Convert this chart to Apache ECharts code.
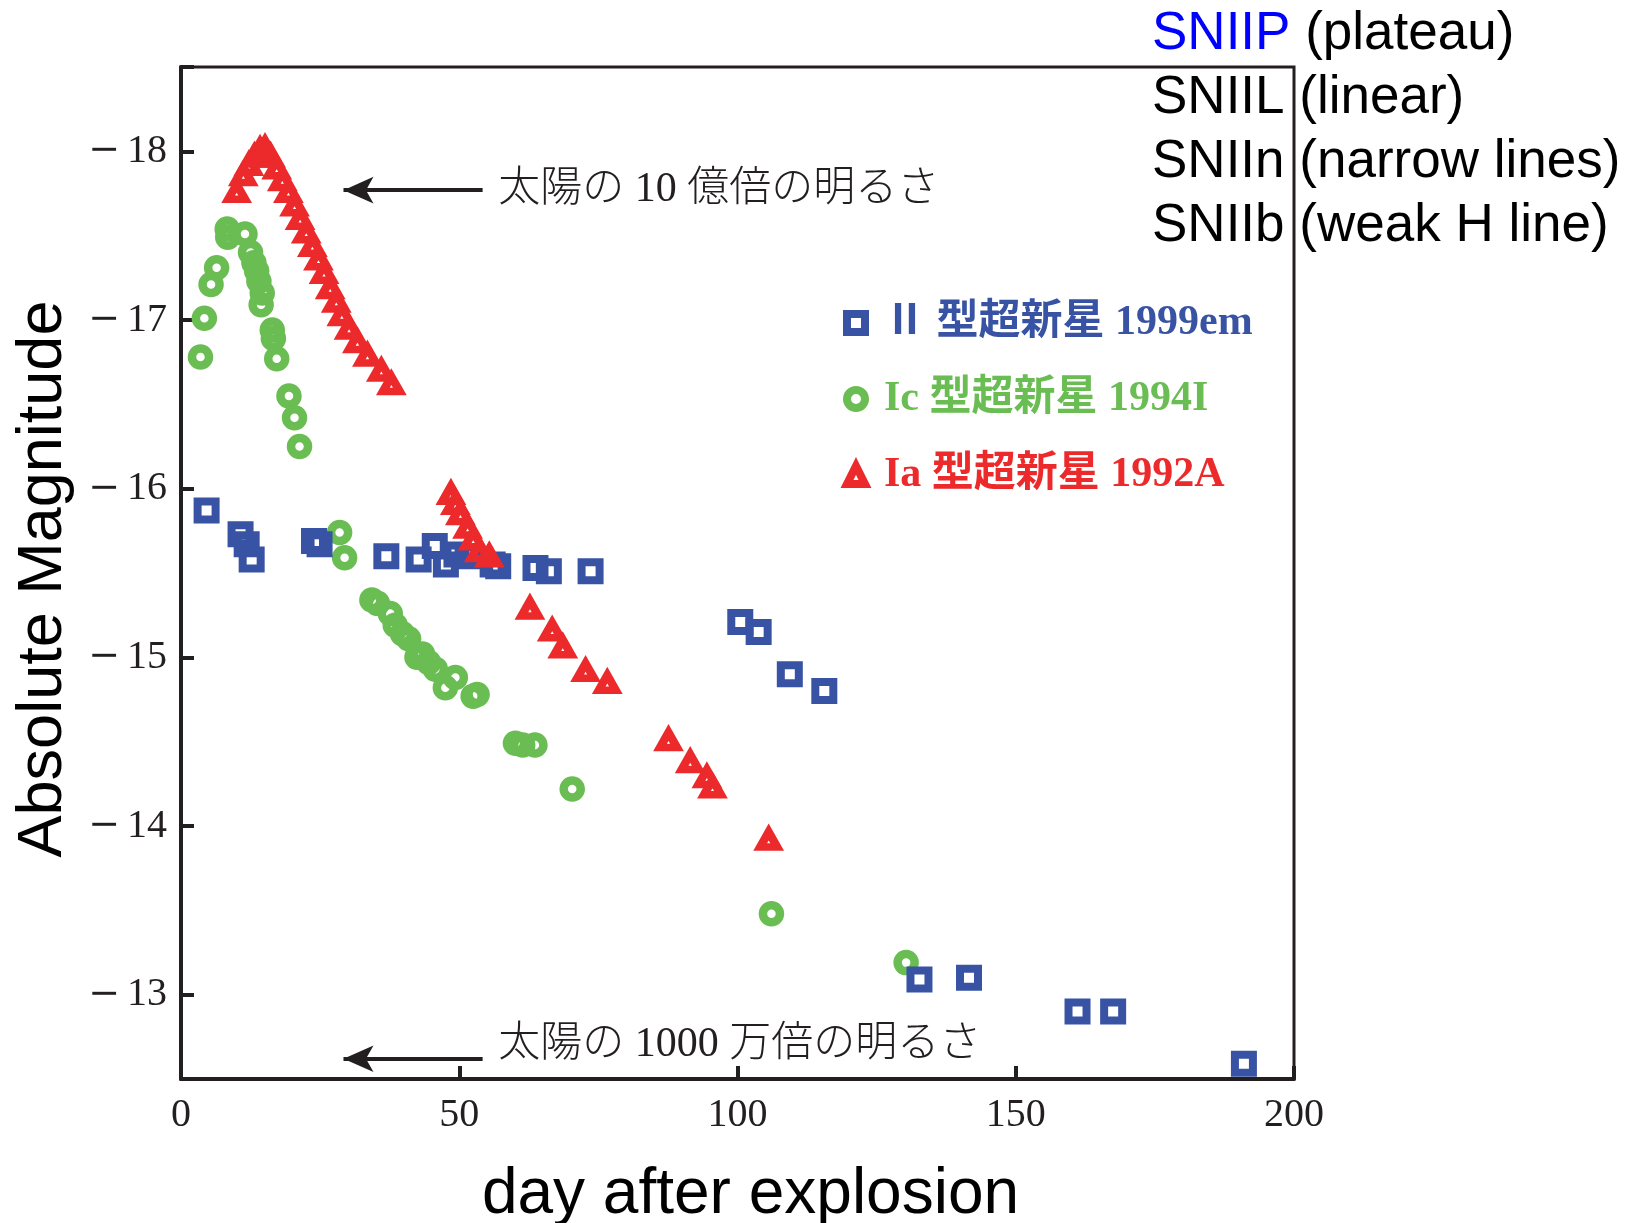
<!DOCTYPE html>
<html>
<head>
<meta charset="utf-8">
<script src="https://cdn.jsdelivr.net/npm/echarts@6/dist/echarts.min.js"></script>
<style>
html, body { margin: 0; padding: 0; background: #fff; }
#chart { width: 1627px; height: 1223px; }
</style>
</head>
<body>
<div id="chart"></div>
<script>
// Light curves: days after explosion vs. absolute magnitude
const seriesNames = ['Ⅱ 型超新星 1999em', 'Ic 型超新星 1994I', 'Ia 型超新星 1992A'];

// SN 1999em (type II, plateau)
const iiDays = [4.6, 10.7, 11.8, 12.7, 23.9, 24.9, 36.9, 42.7, 45.6, 47.6, 49.5, 51.5, 56.0, 57.0,
  63.7, 66.1, 73.6, 100.5, 103.8, 109.4, 115.6, 132.7, 141.6, 161.1, 167.5, 191.0];
const iiMag = [-15.87, -15.73, -15.67, -15.58, -15.69, -15.67, -15.60, -15.58, -15.66, -15.55, -15.61, -15.60, -15.55, -15.54,
  -15.53, -15.51, -15.51, -15.21, -15.15, -14.90, -14.80, -13.09, -13.10, -12.90, -12.90, -12.59];

// SN 1994I (type Ic)
const icDays = [3.5, 4.2, 5.4, 6.4, 8.3, 8.4, 11.5, 12.5, 13.1, 13.6, 14.0, 14.6, 14.4, 16.4, 16.6, 17.2, 19.4, 20.4, 21.3,
  28.5, 29.4,
  34.3, 35.3, 37.6, 38.5, 39.8, 40.9, 42.4, 43.4, 44.5, 45.7, 47.5, 49.3, 52.5, 53.2, 60.1, 61.4, 63.6, 70.3, 106.1, 130.3];
const icMag = [-16.78, -17.01, -17.21, -17.31, -17.54, -17.49, -17.51, -17.40, -17.34, -17.29, -17.23, -17.16, -17.09, -16.94, -16.89, -16.77, -16.55, -16.42, -16.25,
  -15.74, -15.59,
  -15.34, -15.32, -15.26, -15.19, -15.14, -15.11, -15.00, -15.02, -14.97, -14.93, -14.82, -14.88, -14.77, -14.78, -14.49, -14.48, -14.48, -14.22, -13.48, -13.19];

// SN 1992A (type Ia)
const iaDays = [10.0, 11.2, 12.2, 13.2, 14.2, 15.1, 16.1, 17.2, 18.2, 19.3, 20.4, 21.4, 22.5, 23.6, 24.7, 25.7, 26.8, 27.9, 28.9, 30.2, 31.7, 33.5, 36.0, 37.8,
  48.5, 49.3, 50.2, 51.5, 52.5, 53.6, 55.4,
  62.7, 66.7, 68.6, 72.7, 76.6, 87.6, 91.5, 94.5, 95.5, 105.6];
const iaMag = [-17.76, -17.86, -17.92, -17.97, -18.01, -18.02, -17.97, -17.90, -17.83, -17.76, -17.68, -17.60, -17.52, -17.44, -17.36, -17.28, -17.19, -17.11, -17.03, -16.95, -16.87, -16.79, -16.70, -16.62,
  -15.97, -15.91, -15.85, -15.77, -15.70, -15.63, -15.60,
  -15.29, -15.16, -15.06, -14.92, -14.85, -14.51, -14.38, -14.29, -14.23, -13.92];

// Reference brightness levels (arrows + captions)
const refLevels = [-17.77, -12.62];
const refCaptionLevels = [-17.77, -12.70];
const refCaptions = ['太陽の 10 億倍の明るさ', '太陽の 1000 万倍の明るさ'];
const arrowTailDay = 54.2;
const arrowTipDay = 29.2;
const captionDay = 57.0;

// Supernova subtype key
const typeKeys = ['SNIIP', 'SNIIL', 'SNIIn', 'SNIIb'];
const typeNotes = ['(plateau)', '(linear)', '(narrow lines)', '(weak H line)'];

const BLUE = '#3953a4', GREEN = '#6abd52', RED = '#ec2a2b', INK = '#231f20';

const pairs = (xs, ys) => xs.map((x, i) => [x, ys[i]]);
const chart = echarts.init(document.getElementById('chart'), null, { renderer: 'canvas' });

const serifFont = '"Liberation Serif", "Noto Sans CJK JP", serif';
const sansFont = '"Liberation Sans", Arial, sans-serif';

chart.setOption({
  animation: false,
  backgroundColor: '#fff',
  grid: {
    left: 181, top: 67, right: 333, bottom: 144,
    show: true, borderColor: INK, borderWidth: 3,
    containLabel: false, outerBoundsMode: 'none'
  },
  xAxis: {
    type: 'value', min: 0, max: 200, interval: 50,
    name: 'day after explosion', nameLocation: 'middle', nameGap: 84,
    nameTextStyle: { fontFamily: sansFont, fontSize: 64, color: '#000', verticalAlign: 'top', padding: [0, 0, 0, 26] },
    axisLine: { show: true, lineStyle: { color: INK, width: 4 } },
    axisTick: { show: true, inside: true, length: 13, lineStyle: { color: INK, width: 4 } },
    axisLabel: { fontFamily: serifFont, fontSize: 40, color: INK, margin: 16 },
    splitLine: { show: false }
  },
  yAxis: {
    type: 'value', min: -18.5, max: -12.5, splitNumber: 6, inverse: true,
    name: 'Absolute Magnitude', nameLocation: 'middle', nameGap: 106, nameRotate: 90,
    nameTextStyle: { fontFamily: sansFont, fontSize: 63, color: '#000', padding: [0, 12, 0, 0] },
    axisLine: { show: true, lineStyle: { color: INK, width: 4 } },
    axisTick: { show: true, inside: true, length: 13, lineStyle: { color: INK, width: 4 } },
    axisLabel: {
      fontFamily: serifFont, fontSize: 40, color: INK, margin: 14,
      formatter: v => Number.isInteger(v) ? '{m|\u2212}' + Math.abs(v) : '',
      rich: { m: { fontFamily: '"DejaVu Serif", serif', fontSize: 38, color: INK, padding: [0, 7, 0, 0] } }
    },
    splitLine: { show: false }
  },
  legend: {
    orient: 'vertical', left: 843, top: 302, padding: 0,
    itemWidth: 18, itemHeight: 18, itemGap: 34,
    selectedMode: false,
    itemStyle: { borderWidth: 8, opacity: 1 },
    textStyle: { fontFamily: serifFont, fontSize: 42, fontWeight: 'bold', lineHeight: 42, padding: [0, 0, 0, 14] },
    data: [
      { name: seriesNames[0], textStyle: { color: BLUE } },
      { name: seriesNames[1], textStyle: { color: GREEN } },
      { name: seriesNames[2], textStyle: { color: RED } }
    ]
  },
  series: [
    {
      name: seriesNames[1], type: 'scatter', data: pairs(icDays, icMag),
      symbol: 'circle', symbolSize: 17,
      itemStyle: { color: 'rgba(255,255,255,0)', borderColor: GREEN, borderWidth: 8.5, opacity: 1 },
      emphasis: { disabled: true }
    },
    {
      name: seriesNames[0], type: 'scatter', data: pairs(iiDays, iiMag),
      symbol: 'rect', symbolSize: 18,
      itemStyle: { color: 'rgba(255,255,255,0)', borderColor: BLUE, borderWidth: 8, opacity: 1 },
      emphasis: { disabled: true },
      markLine: {
        silent: true, animation: false,
        symbol: ['none', 'arrow'], symbolSize: [20, 30],
        lineStyle: { color: INK, width: 4, type: 'solid', opacity: 1 },
        label: { show: false },
        emphasis: { disabled: true },
        data: refLevels.map(l => [{ coord: [arrowTailDay, l] }, { coord: [arrowTipDay, l] }])
      }
    },
    {
      name: seriesNames[2], type: 'scatter', data: pairs(iaDays, iaMag),
      symbol: 'triangle', symbolSize: [17, 15],
      itemStyle: { color: 'rgba(255,255,255,0)', borderColor: RED, borderWidth: 8, opacity: 1 },
      emphasis: { disabled: true }
    }
  ]
});

// Captions beside the arrows, placed through the grid's own coordinate system
const graphics = refCaptions.map((t, i) => {
  const p = chart.convertToPixel({ gridIndex: 0 }, [captionDay, refCaptionLevels[i]]);
  return {
    type: 'text', x: p[0], y: p[1], silent: true,
    style: {
      text: t, fill: INK, fontFamily: serifFont, fontSize: 42, fontWeight: 300,
      align: 'left', verticalAlign: 'middle'
    }
  };
});

// Subtype key in the upper right corner
typeKeys.forEach((k, i) => {
  graphics.push({
    type: 'text', x: 1152, y: 34 + i * 64.2, silent: true, z: 10,
    style: {
      text: '{k|' + k + '} ' + typeNotes[i],
      fill: '#000', fontFamily: sansFont, fontSize: 53,
      align: 'left', verticalAlign: 'middle',
      rich: { k: { fill: i === 0 ? '#0000ff' : '#000', fontFamily: sansFont, fontSize: 53 } }
    }
  });
});

chart.setOption({ graphic: graphics });
</script>
</body>
</html>
